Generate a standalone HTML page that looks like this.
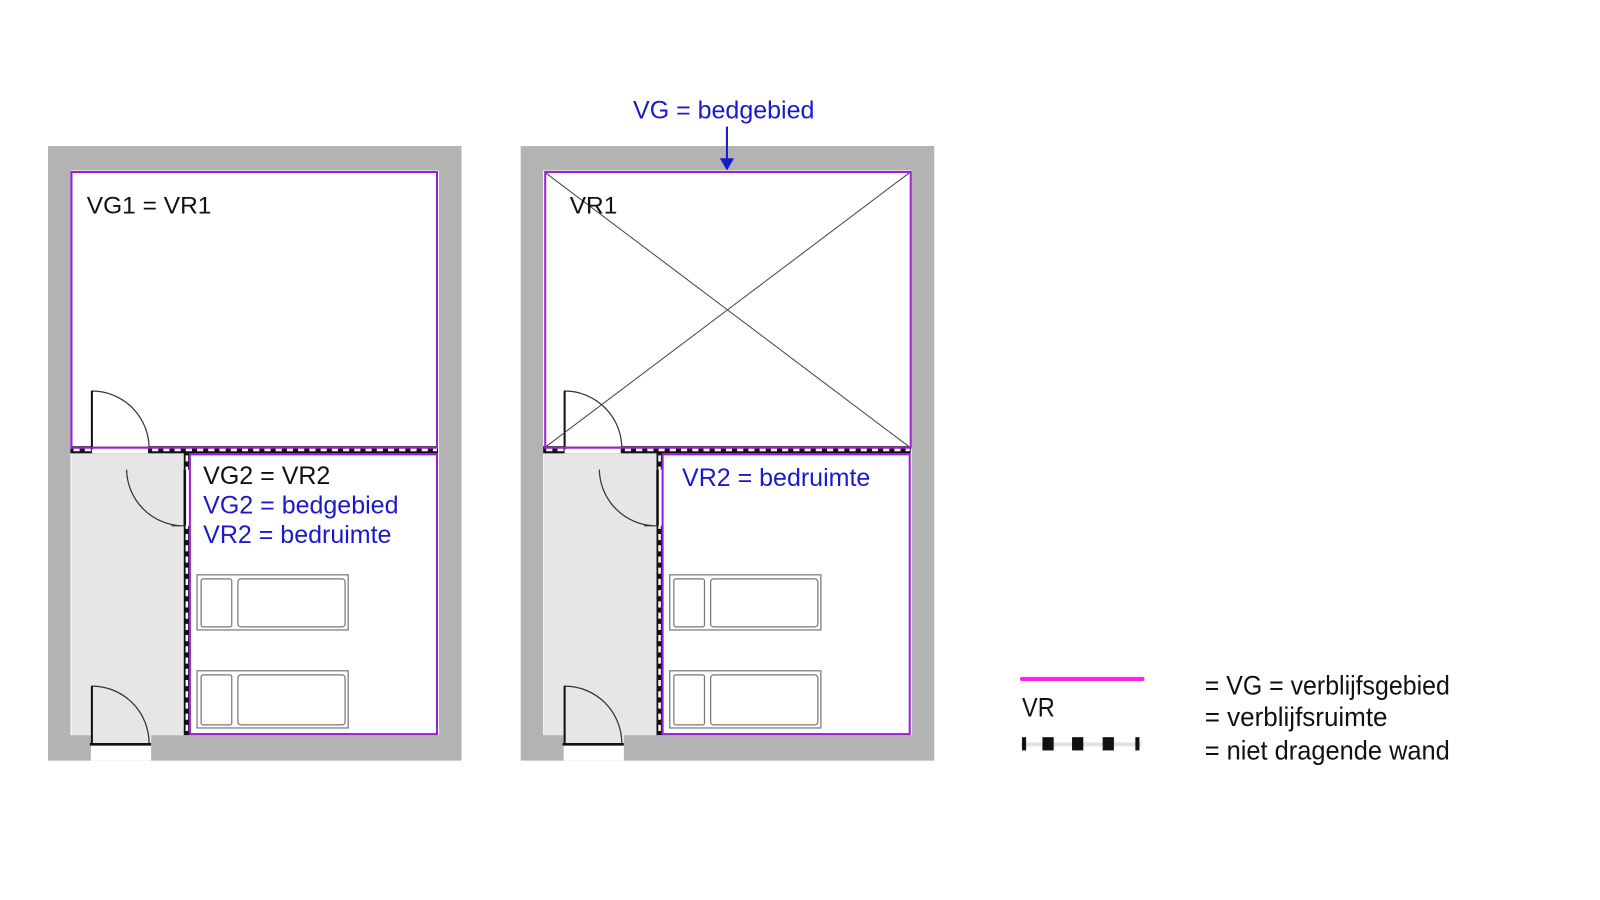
<!DOCTYPE html>
<html><head><meta charset="utf-8"><style>
html,body{margin:0;padding:0;background:#fff;width:1600px;height:900px;overflow:hidden}
svg{display:block}
text{font-family:"Liberation Sans",Arial,sans-serif}
</style></head><body>
<svg width="1600" height="900" viewBox="0 0 1600 900" xmlns="http://www.w3.org/2000/svg">
<defs>
<g id="plan">
  <rect x="47" y="143" width="405" height="602" fill="#b3b3b3"/>
  <rect x="69" y="167" width="361" height="553" fill="#fff"/>
  <rect x="89" y="720" width="59" height="25" fill="#fff"/>
  <rect x="70" y="443" width="111" height="277" fill="#e6e6e6"/>
  <rect x="89" y="720" width="59" height="10" fill="#e6e6e6"/>
  <rect x="69" y="437" width="360" height="7" fill="#111"/>
  <line x1="72" y1="440.5" x2="428" y2="440.5" stroke="#fff" stroke-width="3" stroke-dasharray="6,5"/>
  <rect x="90" y="437" width="55" height="7" fill="#fff"/>
  <rect x="180" y="443" width="6" height="277" fill="#111"/>
  <line x1="183" y1="446" x2="183" y2="720" stroke="#fff" stroke-width="2.5" stroke-dasharray="6,5"/>
  <rect x="180" y="460" width="6" height="55" fill="#fff"/>
  <line x1="181" y1="460" x2="181" y2="515" stroke="#111" stroke-width="2.5"/>
  <path d="M90 440 V383 A56 56 0 0 1 146 440" fill="none" stroke="#333" stroke-width="1.2"/>
  <line x1="90" y1="383" x2="90" y2="440" stroke="#111" stroke-width="2"/>
  <path d="M181 515 H168 M124 460 A56 56 0 0 0 178 515" fill="none" stroke="#333" stroke-width="1.2"/>
  <path d="M90 728 V672 A56 56 0 0 1 146 728" fill="none" stroke="#333" stroke-width="1.2"/>
  <line x1="90" y1="672" x2="90" y2="728" stroke="#111" stroke-width="2"/>
  <line x1="88" y1="729" x2="148" y2="729" stroke="#111" stroke-width="2.5"/>
  <g fill="#fff" stroke="#777" stroke-width="1.2">
    <rect x="193" y="563" width="148" height="54"/>
    <rect x="197" y="567" width="30" height="47" rx="2"/>
    <rect x="233" y="567" width="105" height="47" rx="3"/>
    <rect x="193" y="657" width="148" height="56"/>
    <rect x="197" y="661" width="30" height="49" rx="2"/>
    <rect x="233" y="661" width="105" height="49" rx="3"/>
  </g>
</g>
</defs>
<g transform="scale(1.021)">
<use href="#plan"/>
<rect x="70" y="168.5" width="358" height="270" fill="none" stroke="#9b1fd8" stroke-width="2"/>
<rect x="186" y="445" width="242" height="274" fill="none" stroke="#9b1fd8" stroke-width="2"/>
<text x="85" y="209" font-size="24" fill="#111">VG1  = VR1</text>
<text x="199" y="474" font-size="24.5" fill="#111">VG2 = VR2</text>
<text x="199" y="503" font-size="24.5" fill="#1a1acc">VG2 = bedgebied</text>
<text x="199" y="532" font-size="24.5" fill="#1a1acc">VR2 = bedruimte</text>

<g transform="translate(463,0)"><use href="#plan"/></g>
<line x1="534" y1="169" x2="891" y2="438" stroke="#444" stroke-width="1"/>
<line x1="891" y1="169" x2="534" y2="438" stroke="#444" stroke-width="1"/>
<rect x="534" y="168.5" width="358" height="270" fill="none" stroke="#9b1fd8" stroke-width="2"/>
<rect x="649" y="445" width="242" height="274" fill="none" stroke="#9b1fd8" stroke-width="2"/>
<text x="558" y="209" font-size="24" fill="#111">VR1</text>
<text x="668" y="476" font-size="24.5" fill="#1a1acc">VR2 = bedruimte</text>
<text x="620" y="116" font-size="24.5" fill="#1a1acc">VG = bedgebied</text>
<line x1="712" y1="124" x2="712" y2="158" stroke="#1a1acc" stroke-width="2"/>
<path d="M705 155 L712 167 L719 155 Z" fill="#1a1acc"/>

<line x1="1001" y1="665" x2="1119" y2="665" stroke="#ff22ee" stroke-width="4" stroke-linecap="round"/>
<text x="1001" y="702" font-size="26" fill="#111" textLength="32" lengthAdjust="spacingAndGlyphs">VR</text>
<rect x="1000" y="727" width="118" height="4" fill="#e2e2e2"/>
<g fill="#111">
<rect x="1001" y="722" width="4" height="13"/>
<rect x="1021" y="722" width="11" height="13"/>
<rect x="1050" y="722" width="11" height="13"/>
<rect x="1080" y="722" width="11" height="13"/>
<rect x="1112" y="722" width="4" height="13"/>
</g>
<text x="1180" y="680" font-size="26" fill="#111" textLength="240" lengthAdjust="spacingAndGlyphs">= VG = verblijfsgebied</text>
<text x="1180" y="711" font-size="26" fill="#111" textLength="179" lengthAdjust="spacingAndGlyphs">= verblijfsruimte</text>
<text x="1180" y="744" font-size="26" fill="#111" textLength="240" lengthAdjust="spacingAndGlyphs">= niet dragende wand</text>
</g>
</svg>
</body></html>
